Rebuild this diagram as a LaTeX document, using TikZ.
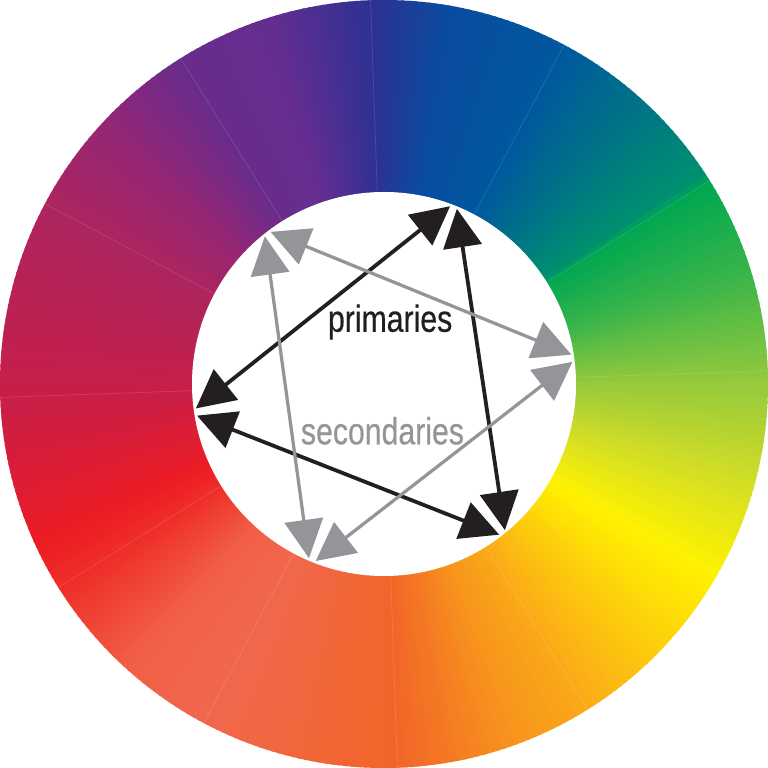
\documentclass[tikz,border=0pt]{standalone}
\usepackage{fontspec}
\newfontfamily\labelfont[FakeStretch=0.8,FakeBold=0.4]{Liberation Sans}
\usetikzlibrary{arrows.meta}
\definecolor{ink}{RGB}{35,31,32}
\definecolor{mist}{RGB}{147,149,152}
\definecolor{s0}{RGB}{150,201,60}
\definecolor{s1}{RGB}{57,181,74}
\definecolor{s2}{RGB}{0,166,81}
\definecolor{s3}{RGB}{0,145,110}
\definecolor{s4}{RGB}{0,115,135}
\definecolor{s5}{RGB}{0,88,158}
\definecolor{s6}{RGB}{10,75,160}
\definecolor{s7}{RGB}{46,49,146}
\definecolor{s8}{RGB}{102,45,145}
\definecolor{s9}{RGB}{105,44,140}
\definecolor{s10}{RGB}{150,38,115}
\definecolor{s11}{RGB}{172,37,95}
\definecolor{s12}{RGB}{200,30,72}
\definecolor{s13}{RGB}{237,28,36}
\definecolor{s14}{RGB}{238,45,40}
\definecolor{s15}{RGB}{241,95,70}
\definecolor{s16}{RGB}{241,103,78}
\definecolor{s17}{RGB}{242,101,40}
\definecolor{s18}{RGB}{247,148,29}
\definecolor{s19}{RGB}{251,170,24}
\definecolor{s20}{RGB}{255,242,0}
\definecolor{s21}{RGB}{210,222,38}
\begin{document}
\begin{tikzpicture}[prim/.style = {draw=ink,line width=1.4pt,{Triangle[length=0.5cm,width=0.5cm]}-{Triangle[length=0.5cm,width=0.5cm]}},
    sec/.style = {draw=mist,line width=1.2pt,{Triangle[length=0.5cm,width=0.5cm]}-{Triangle[length=0.5cm,width=0.5cm]}},
    seam/.style = {white,opacity=0.12,line width=0.3pt},
    lbl/.style = {font=\labelfont\fontsize{14}{16}\selectfont,anchor=base,inner sep=0pt}]
\useasboundingbox (-5,-5) rectangle (5,5);
\foreach \a/\b/\ca/\cb in {0/17/s0/s1, 17/32/s1/s2, 32/33/s2/s3, 33/48/s3/s4, 48/62/s4/s5, 62/80/s5/s6,
    80/92/s6/s7, 92/108/s7/s8, 108/122/s8/s9, 122/138/s9/s10, 138/152/s10/s11, 152/182/s11/s12,
    182/205/s12/s13, 205/212/s13/s14, 212/228/s14/s15, 228/242/s15/s16, 242/272/s16/s17,
    272/290/s17/s18, 290/302/s18/s19, 302/330/s19/s20, 330/345/s20/s21, 345/360/s21/s0} {
    \pgfmathtruncatemacro\e{\b-1}
    \foreach \d [evaluate=\d as \p using {int(100*(\d+0.5-\a)/(\b-\a))}, evaluate=\d as \dd using \d+1.4] in {\a,...,\e}
        \fill[\cb!\p!\ca] (0,0) -- (\d:5) arc (\d:\dd:5) -- cycle;
}
\foreach \s in {2,32,...,332}
    \draw[seam] (\s:2.5) -- (\s:5);
\fill[white] (0,0) circle (2.5);
\foreach \n/\ang in {A/68.5, B/188.5, C/308.5, P/7.8, Q/127.8, R/247.8} {
    \coordinate (\n1) at (\ang-1.1:2.47);
    \coordinate (\n2) at (\ang+1.1:2.47);
}
\draw[prim] (A2) -- (B1);
\draw[prim] (B2) -- (C1);
\draw[prim] (C2) -- (A1);
\draw[sec] (P2) -- (Q1);
\draw[sec] (Q2) -- (R1);
\draw[sec] (R2) -- (P1);
\node[lbl,text=ink] (primlabel) at (0.08,0.68) {primaries};
\node[lbl,text=mist] (seclabel) at (-0.02,-0.785) {secondaries};
\end{tikzpicture}
\end{document}
